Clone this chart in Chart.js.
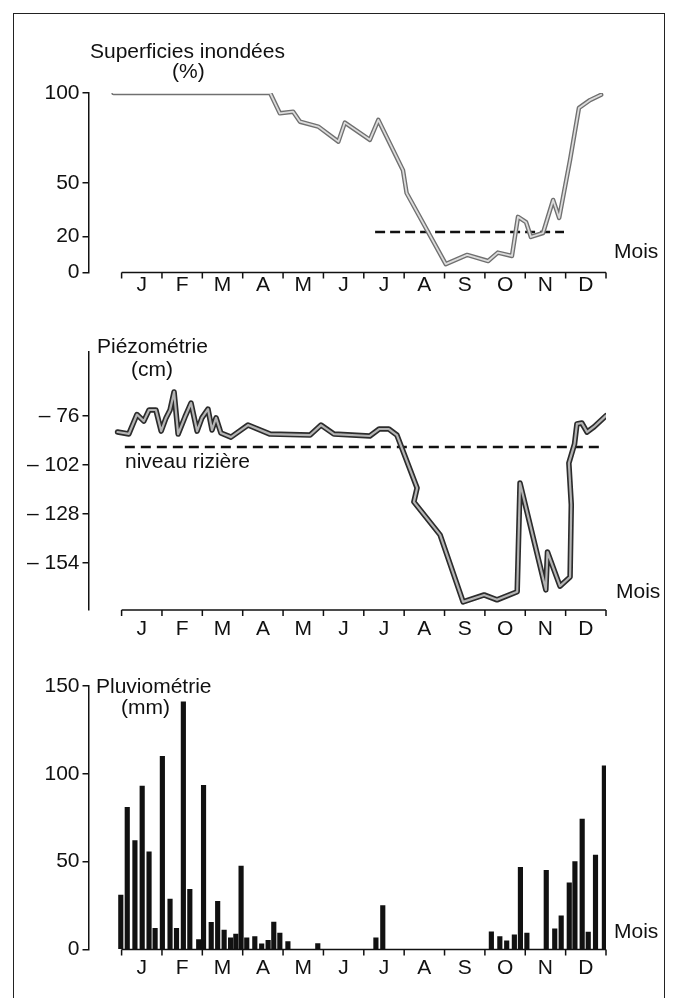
<!DOCTYPE html>
<html lang="fr">
<head>
<meta charset="UTF-8">
<title>Superficies inondées, piézométrie, pluviométrie</title>
<script src="https://cdn.jsdelivr.net/npm/chart.js"></script>
<style>
  body { margin: 0; background: #fff; }
  #page { position: relative; width: 673px; height: 998px; overflow: hidden;
          font-family: "Liberation Sans", Arial, sans-serif; color: #111; }
  #frame { position: absolute; left: 13px; top: 13px; width: 652px; height: 1010px;
           border: 1.5px solid #222; box-sizing: border-box; }
  canvas { position: absolute; left: 0; }
  .lbl { position: absolute; font-size: 21px; line-height: 21px; white-space: nowrap; }
</style>
</head>
<body>
<div id="page">
  <div id="frame"></div>
  <canvas id="c1" width="673" height="320" style="top:0px"></canvas>
  <canvas id="c2" width="673" height="345" style="top:320px"></canvas>
  <canvas id="c3" width="673" height="358" style="top:640px"></canvas>

  <div class="lbl" style="left:90px;top:40px">Superficies inondées</div>
  <div class="lbl" style="left:172px;top:60px">(%)</div>
  <div class="lbl" style="left:614px;top:240px">Mois</div>

  <div class="lbl" style="left:97px;top:335px">Piézométrie</div>
  <div class="lbl" style="left:131px;top:358px">(cm)</div>
  <div class="lbl" style="left:125px;top:450px">niveau rizière</div>
  <div class="lbl" style="left:616px;top:580px">Mois</div>

  <div class="lbl" style="left:96px;top:675px">Pluviométrie</div>
  <div class="lbl" style="left:121px;top:696px">(mm)</div>
  <div class="lbl" style="left:614px;top:920px">Mois</div>
</div>
<script>
// x values are in months from 1 January (0 = start of J, 12 = end of D)
const months = ['J', 'F', 'M', 'A', 'M', 'J', 'J', 'A', 'S', 'O', 'N', 'D'];

// Superficies inondées (%)
const surfMonth = [-0.2, 3.68, 3.92, 4.25, 4.42, 4.87, 5.37, 5.53, 6.15, 6.36, 6.97, 7.06,
  8.03, 8.56, 9.08, 9.32, 9.67, 9.82, 10.02, 10.14, 10.44, 10.69, 10.84, 11.11, 11.33, 11.6, 11.88];
const surfPct = [100, 100, 88.7, 89.6, 84, 81.3, 72.9, 83.5, 73.9, 85, 57, 44.3,
  4.7, 9.8, 6.4, 11.1, 9.2, 31, 28, 19.8, 22, 40.4, 30.4, 62.7, 91.7, 96, 99];
const surfSeuil = 22.5;
const surfSeuilSpan = [6.28, 10.96];
const surfTicks = [0, 20, 50, 100];

// Piézométrie (cm)
const piezoMonth = [-0.1, 0.18, 0.38, 0.55, 0.68, 0.85, 0.98, 1.1, 1.2, 1.3, 1.4, 1.57, 1.72,
  1.87, 1.99, 2.14, 2.24, 2.34, 2.46, 2.71, 3.13, 3.68, 4.67, 4.94, 5.26, 6.15, 6.38, 6.62,
  6.82, 7.32, 7.24, 7.89, 8.46, 8.98, 9.3, 9.8, 9.87, 10.51, 10.55, 10.86, 11.11, 11.14,
  11.08, 11.22, 11.28, 11.4, 11.53, 11.7, 12];
const piezoCm = [-84.5, -85.5, -75.2, -78.7, -72.8, -72.8, -84, -77, -72.8, -63.2, -85.6, -76.5, -69.1,
  -84, -77, -72.3, -83.4, -77, -85, -87.2, -80.8, -85.6, -86.1, -80.8, -85.6, -86.6, -82.9, -82.9,
  -86.1, -114.2, -121.6, -139.1, -174.7, -171, -173.6, -169.3, -111.6, -168.3, -148.2, -166.3, -161.5, -123.1,
  -101, -90.9, -80.2, -79.7, -84.5, -81.8, -75.8];
const rizNiveau = -92.4;
const rizSpan = [0.08, 11.93];
const piezoTicks = [-154, -128, -102, -76];

// Pluviométrie (mm)
const pluieMonth = [-0.02, 0.14, 0.33, 0.51, 0.68, 0.83, 1.01, 1.2, 1.36, 1.53, 1.69, 1.91, 2.03,
  2.22, 2.38, 2.54, 2.7, 2.83, 2.96, 3.1, 3.3, 3.47, 3.63, 3.77, 3.92, 4.12, 4.86, 6.3, 6.47,
  9.16, 9.37, 9.54, 9.73, 9.88, 10.04, 10.52, 10.73, 10.89, 11.09, 11.23, 11.41, 11.56, 11.74, 11.96];
const pluieMm = [31, 81, 62, 93, 55.6, 12, 110, 28.7, 12, 141, 34.3, 5.7, 93.5,
  15.5, 27.4, 11, 6.6, 8.8, 47.5, 6.6, 7.3, 3.2, 5.2, 15.6, 9.4, 4.5, 3.4, 6.6, 25,
  10, 7.4, 5, 8.4, 46.8, 9.3, 45, 11.8, 19.2, 38, 50, 74.2, 9.9, 53.8, 104.5];
const pluieTicks = [0, 50, 100, 150];

const ink = '#111';
const tickFont = { family: 'Liberation Sans', size: 21 };
const AXIS_LEFT = 88.5;
const AREA_RIGHT = 606;
const X_MIN = -0.82;

const pts = (xs, ys) => xs.map((x, i) => ({ x: x, y: ys[i] }));
const span = (s, v) => [{ x: s[0], y: v }, { x: s[1], y: v }];

const monthAxis = {
  id: 'monthAxis',
  afterDraw(chart, args, opts) {
    const { ctx, chartArea } = chart;
    const xs = chart.scales.x;
    const y = chartArea.bottom + (opts.offset || 0);
    ctx.save();
    ctx.strokeStyle = ink;
    ctx.lineWidth = 1.5;
    ctx.beginPath();
    ctx.moveTo(xs.getPixelForValue(0), y);
    ctx.lineTo(xs.getPixelForValue(12), y);
    for (let i = 0; i <= 12; i++) {
      const px = xs.getPixelForValue(i);
      ctx.moveTo(px, y);
      ctx.lineTo(px, y + 6);
    }
    ctx.stroke();
    ctx.restore();
  }
};

function monthScale(labelPad) {
  return {
    type: 'linear', min: X_MIN, max: 12, offset: false,
    afterBuildTicks: s => { s.ticks = months.map((m, i) => ({ value: i + 0.5 })); },
    afterFit: s => { s.height = 30; },
    grid: { display: false, drawTicks: false, offset: false },
    border: { display: false },
    ticks: { padding: labelPad, font: tickFont, color: ink, autoSkip: false, maxRotation: 0,
             callback: (v, i) => months[i] }
  };
}

function valueScale(min, max, ticks, fmt) {
  return {
    type: 'linear', min: min, max: max,
    afterBuildTicks: s => { s.ticks = ticks.map(v => ({ value: v })); },
    afterFit: s => { s.width = AXIS_LEFT; },
    grid: { drawOnChartArea: false, drawTicks: true, tickLength: 6, color: ink, lineWidth: 1.5 },
    border: { display: true, color: ink, width: 1.5 },
    ticks: { padding: 3, font: tickFont, color: ink, callback: fmt }
  };
}

function makeChart(id, type, datasets, yScale, box) {
  const cv = document.getElementById(id);
  return new Chart(cv, {
    type: type,
    data: { datasets: datasets },
    options: {
      responsive: false,
      animation: false,
      layout: { padding: {
        left: 0,
        right: 673 - AREA_RIGHT,
        top: box.areaTop - box.top,
        bottom: box.top + cv.height - box.areaBottom - 30
      } },
      scales: { x: monthScale(box.labelPad), y: yScale },
      plugins: { legend: { display: false }, tooltip: { enabled: false },
                 monthAxis: { offset: 0 } }
    },
    plugins: [monthAxis]
  });
}

const lineBase = { pointRadius: 0, tension: 0, borderJoinStyle: 'round', borderCapStyle: 'round', fill: false };

// 1. Superficies inondées
const surfData = pts(surfMonth, surfPct);
makeChart('c1', 'line', [
  Object.assign({ data: surfData, borderColor: '#dcdcdc', borderWidth: 1.8 }, lineBase),
  Object.assign({ data: surfData, borderColor: '#707070', borderWidth: 4.5 }, lineBase),
  Object.assign({ data: span(surfSeuilSpan, surfSeuil), borderColor: ink, borderWidth: 2.5,
                  borderDash: [10, 5] }, lineBase, { borderCapStyle: 'butt' })
], valueScale(0, 100, surfTicks, v => String(v)),
  { top: 0, areaTop: 93, areaBottom: 272.5, labelPad: 0 });

// 2. Piézométrie
const piezoData = pts(piezoMonth, piezoCm);
makeChart('c2', 'line', [
  Object.assign({ data: piezoData, borderColor: '#b4b4b4', borderWidth: 2.2 }, lineBase),
  Object.assign({ data: piezoData, borderColor: '#2c2c2c', borderWidth: 5.5 }, lineBase),
  Object.assign({ data: span(rizSpan, rizNiveau), borderColor: ink, borderWidth: 2.5,
                  borderDash: [10, 6] }, lineBase, { borderCapStyle: 'butt' })
], valueScale(-179, -42, piezoTicks, v => '\u2013 ' + Math.abs(v)),
  { top: 320, areaTop: 352, areaBottom: 610, labelPad: 6.5 });

// 3. Pluviométrie
makeChart('c3', 'bar', [
  { data: pts(pluieMonth, pluieMm), backgroundColor: ink, barThickness: 4.5 }
], valueScale(0, 150, pluieTicks, v => String(v)),
  { top: 640, areaTop: 686, areaBottom: 949.5, labelPad: 6.5 });
</script>
</body>
</html>
